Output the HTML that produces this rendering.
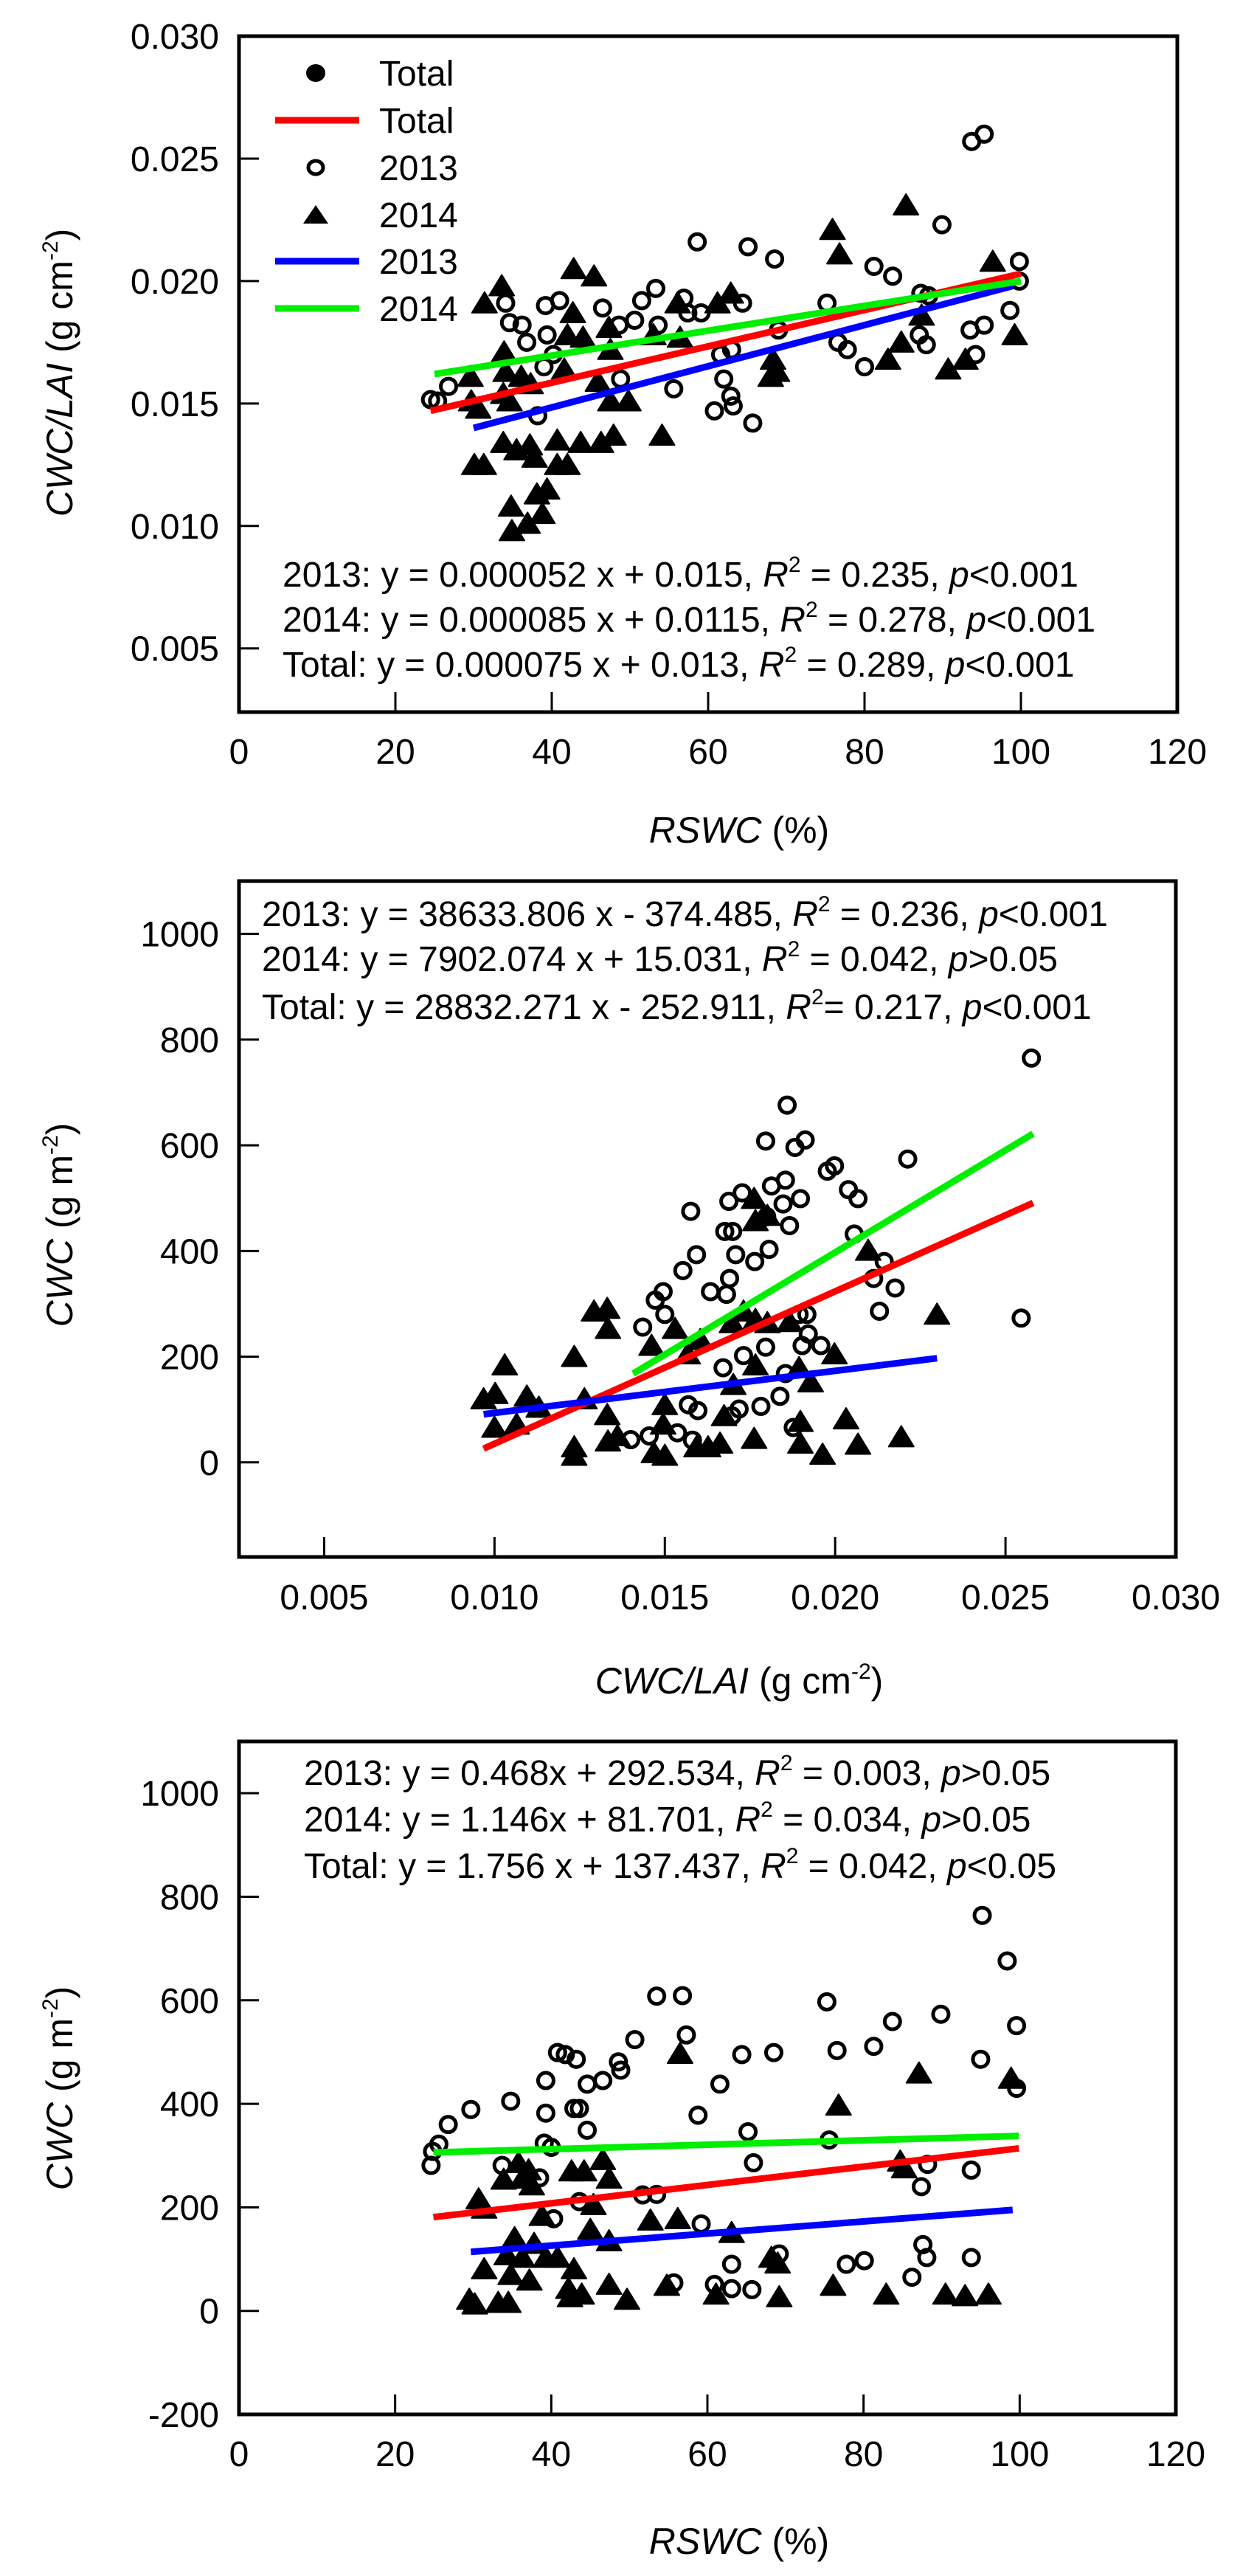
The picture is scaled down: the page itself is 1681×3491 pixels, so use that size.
<!DOCTYPE html>
<html><head><meta charset="utf-8"><style>
html,body{margin:0;padding:0;background:#fff;}
svg{display:block;font-family:"Liberation Sans",Arial,sans-serif;}
</style></head>
<body>
<svg id="fig" xmlns="http://www.w3.org/2000/svg" width="1681" height="3491" viewBox="0 0 1681 3491"></svg>
<script>
// ---------- Panel A data: RSWC (%) vs CWC/LAI ----------
const a2013X=[24.5,25.4,26.8,34.1,34.6,36.2,36.8,38.2,39.2,39.4,39,41,40.2,46.5,48.6,48.8,50.6,51.5,53.3,53.6,55.6,56.9,57.4,58.6,59.1,60.8,61.6,62,63,62.9,63.2,64.4,65.1,65.7,68.5,69,75.2,76.6,77.8,80,81.2,83.6,87.2,87,87.9,89.9,93.7,95.3,93.5,95.3,94.2,98.6,99.8,99.8,88.2];
const a2013Y=[0.01516,0.0151,0.0157,0.0191,0.0183,0.0182,0.0175,0.0145,0.0190,0.0178,0.0165,0.0192,0.0170,0.0189,0.0182,0.0160,0.0184,0.0192,0.0197,0.0182,0.0156,0.0193,0.0187,0.0216,0.0187,0.0147,0.0170,0.0160,0.0172,0.0153,0.0149,0.0191,0.0214,0.0142,0.0209,0.0180,0.0191,0.0175,0.0172,0.0165,0.0206,0.0202,0.0195,0.0178,0.0174,0.0223,0.0257,0.0260,0.0180,0.0182,0.0170,0.0188,0.0208,0.0200,0.0194];
const a2014X=[29.6,31.4,33.6,29.7,30.6,30.1,31.3,33.9,34.1,33.8,34.6,33.8,36.1,37.3,35.5,37.2,37.8,34.8,34.9,36.9,38.1,39.4,38.8,40.7,42,42.8,45.4,42,42.7,44,41.6,40.7,43.7,45.9,47.3,47.5,46.3,47.9,47.5,49.8,53,54.1,56.1,56.4,61.2,62.9,68.3,68.8,68,75.9,76.8,83,84.7,85.3,87.3,90.7,92.9,96.4,99.2];
const a2014Y=[0.0161,0.0191,0.0198,0.0151,0.0148,0.0125,0.0125,0.0171,0.0163,0.0154,0.0151,0.0134,0.0161,0.0158,0.0131,0.0133,0.0128,0.0108,0.0098,0.0101,0.0113,0.0115,0.0105,0.0125,0.0125,0.0205,0.0202,0.0178,0.0187,0.0177,0.0164,0.0135,0.0134,0.0159,0.0181,0.0172,0.0134,0.0137,0.0151,0.0151,0.0178,0.0137,0.0191,0.0177,0.0191,0.0195,0.0168,0.0163,0.0161,0.0221,0.0211,0.0168,0.0175,0.0231,0.0186,0.0164,0.0168,0.0208,0.0178];
const aLineX0=[24.5,30,25];      // Total, 2013, 2014
const aLineX1=[100,99,100];
const aLineY0=[0.0147,0.0140,0.0162];
const aLineY1=[0.0203,0.0198,0.0200];
const aXTicks=[0,20,40,60,80,100,120];
const aYTicks=[0.005,0.010,0.015,0.020,0.025,0.030];
const aYTickLabels=["0.005","0.010","0.015","0.020","0.025","0.030"];

// ---------- Panel B data: CWC/LAI vs CWC ----------
const b2013X=[0.02576,0.02546,0.01859,0.01796,0.01882,0.01912,0.01977,0.01998,0.02213,0.01854,0.01813,0.01727,0.01688,0.01898,0.01847,0.02039,0.02067,0.01576,0.01799,0.01676,0.01699,0.01866,0.02056,0.01593,0.01708,0.01806,0.01764,0.02144,0.01553,0.02113,0.02176,0.01690,0.01681,0.01634,0.01495,0.01472,0.01500,0.02130,0.01894,0.01917,0.01435,0.01921,0.01731,0.01796,0.01958,0.01903,0.01671,0.01854,0.01838,0.01782,0.01718,0.01697,0.01569,0.01597,0.01877,0.01537,0.01454,0.01581,0.01400];
const b2013Y=[765,273,676,608,596,610,551,561,574,534,523,510,494,499,489,516,499,475,465,437,437,448,432,393,393,403,380,380,363,348,330,348,318,323,323,307,280,286,280,280,256,243,202,218,221,221,179,168,125,106,101,88,109,98,66,56,50,42,43];
const b2014X=[0.00968,0.01002,0.01030,0.01000,0.01065,0.01095,0.01130,0.01234,0.01234,0.01234,0.01264,0.01292,0.01331,0.01333,0.01331,0.01333,0.01361,0.01461,0.01530,0.01500,0.01495,0.01500,0.01468,0.01567,0.01604,0.01593,0.01627,0.01662,0.01697,0.01731,0.01766,0.01801,0.01762,0.01766,0.01801,0.01766,0.01762,0.01866,0.01894,0.01928,0.01898,0.01898,0.01963,0.01998,0.02032,0.02067,0.02097,0.02194,0.02299,0.01701,0.01674];
const b2014Y=[120,130,184,66,72,125,104,200,29,13,120,286,291,253,90,40,50,221,253,109,72,13,18,205,232,29,29,36,264,286,270,264,499,457,467,184,45,266,179,152,77,36,15,205,82,34,401,48,280,147,88];
const bLineX0=[0.00968,0.00968,0.01407];
const bLineX1=[0.02581,0.02299,0.02581];
const bLineY0=[26,91,168];
const bLineY1=[491,197,622];
const bXTicks=[0.005,0.010,0.015,0.020,0.025,0.030];
const bXTickLabels=["0.005","0.010","0.015","0.020","0.025","0.030"];
const bYTicks=[0,200,400,600,800,1000];

// ---------- Panel C data: RSWC vs CWC ----------
const c2013X=[24.6,24.8,25.6,26.8,29.7,34.8,33.7,39.3,39.3,39.1,40,38.5,40.3,40.8,41.8,43.2,42.9,43.6,44.6,46.6,44.6,43.6,48.6,48.9,50.7,51.7,53.5,53.5,56.8,57.3,55.7,58.8,59.2,61.6,60.9,63.1,63.1,64.4,65.2,65.9,65.7,68.5,69.2,75.3,75.6,76.6,77.8,80.1,81.3,83.7,86.2,87.4,87.6,88.1,88.2,89.9,93.8,93.8,95,95.2,98.4,99.6,99.6];
const c2013Y=[281,308,322,360,389,405,281,445,382,324,316,257,178,499,495,486,391,391,438,445,349,211,481,465,524,224,225,608,609,533,54,378,168,438,51,90,43,495,346,286,41,499,110,597,330,503,90,97,511,559,65,240,128,103,283,573,103,272,486,764,676,551,430];
const c2014X=[29.5,30.2,30.7,31.4,31.4,33.2,34.5,33.9,35.8,36.3,37.1,37.5,35.3,34.3,36.3,37.2,34.8,37.8,38.8,39.3,40.8,42.6,44.2,42.9,42.2,42.4,43.9,45.4,45,46.6,47.4,47.4,47.4,49.7,52.7,56.2,56.5,54.8,63.1,61.1,69.2,68.2,69,76.8,76.1,82.9,84.7,85.2,87.1,90.5,93,96,98.9];
const c2014Y=[22,13,216,198,81,16,16,254,286,256,272,243,141,108,103,59,70,130,184,103,103,270,270,81,43,27,32,205,157,292,256,135,51,22,175,178,497,49,151,32,27,103,92,397,49,32,289,276,459,32,29,32,449];
const cLineX0=[24.9,29.7,24.9];
const cLineX1=[99.9,99.1,99.9];
const cLineY0=[181,114,306];
const cLineY1=[314,195,338];
const cXTicks=[0,20,40,60,80,100,120];
const cYTicks=[-200,0,200,400,600,800,1000];

const lineColors=["#ff0000","#0000ff","#00ee00"];
const lineNames=["total","2013","2014"];

const NS="http://www.w3.org/2000/svg";
const svg=document.getElementById('fig');
function mk(tag,attrs,parent){const e=document.createElementNS(NS,tag);for(const k in attrs)e.setAttribute(k,attrs[k]);(parent||svg).appendChild(e);return e;}

function panel(cfg){
  const g=mk('g',{});
  
  
  const L=cfg.left,R=cfg.right,T=cfg.top,B=cfg.bottom;
  const sx=v=>L+(v-cfg.xmin)/(cfg.xmax-cfg.xmin)*(R-L);
  const sy=v=>B-(v-cfg.ymin)/(cfg.ymax-cfg.ymin)*(B-T);
  // ticks (inside)
  cfg.yTicks.forEach((v,i)=>{
    const y=sy(v);
    if(y>T+3&&y<B-3){const t=mk('line',{x1:L,x2:L+27,y1:y,y2:y,stroke:'#000','stroke-width':3},g);
    
    }
    const lb=mk('text',{x:297,y:y+17,'text-anchor':'end','font-size':48},g);
    lb.textContent=cfg.yLabels?cfg.yLabels[i]:String(v);
    
    
  });
  cfg.xTicks.forEach((v,i)=>{
    const x=sx(v);
    if(x>L+3&&x<R-3){const t=mk('line',{x1:x,x2:x,y1:B,y2:B-27,stroke:'#000','stroke-width':3},g);
    
    }
    const lb=mk('text',{x:x,y:cfg.xLabelY,'text-anchor':'middle','font-size':48},g);
    lb.textContent=cfg.xLabels?cfg.xLabels[i]:String(v);
    
    
  });
  // points
  const drawTri=(x,y,parent)=>mk('polygon',{points:`${x},${y-15} ${x-17},${y+13} ${x+17},${y+13}`,fill:'#000',stroke:'#000','stroke-width':2,'stroke-linejoin':'round'},parent);
  const pg=mk('g',{},g);
  
  
  cfg.x14.forEach((v,i)=>{const p=drawTri(sx(v),sy(cfg.y14[i]),pg);
    
    });
  const cg=mk('g',{},g);
  
  
  cfg.x13.forEach((v,i)=>{const c=mk('circle',{cx:sx(v),cy:sy(cfg.y13[i]),r:10.5,fill:'none',stroke:'#000','stroke-width':5},cg);
    
    });
  // lines
  [0,1,2].forEach(i=>{
    const l=mk('line',{x1:sx(cfg.lx0[i]),y1:sy(cfg.ly0[i]),x2:sx(cfg.lx1[i]),y2:sy(cfg.ly1[i]),stroke:lineColors[i],'stroke-width':9},g);
    
    
  });
  const box=mk('rect',{x:L,y:T,width:R-L,height:B-T,fill:'none',stroke:'#000','stroke-width':5},g);
  
  
  // equations
  cfg.eqs.forEach((e,i)=>{
    const t=mk('text',{x:cfg.eqX,y:cfg.eqY[i],'font-size':48},g);
    t.innerHTML=e;
    
    
  });
  // axis titles
  const xt=mk('text',{x:1002,y:cfg.xTitleY,'text-anchor':'middle','font-size':50},g);
  xt.innerHTML=cfg.xTitle;
  
  
  const yt=mk('text',{x:0,y:0,'text-anchor':'middle','font-size':50,transform:`translate(98,${cfg.yTitleY}) rotate(-90)`},g);
  yt.innerHTML=cfg.yTitle;
  
  
  return {g,sx,sy};
}

const R2='<tspan font-style="italic">R</tspan><tspan font-size="30" dy="-20">2</tspan><tspan dy="20">';
const sup=(s)=>`<tspan font-size="30" dy="-20">${s}</tspan><tspan dy="20">`;

const pA=panel({name:'panel-cwc-lai-vs-rswc',left:324,right:1596,top:49,bottom:965,xmin:0,xmax:120,ymin:0.0024,ymax:0.030,
  xTicks:aXTicks,yTicks:aYTicks,yLabels:aYTickLabels,xLabelY:1035,
  x13:a2013X,y13:a2013Y,x14:a2014X,y14:a2014Y,lx0:aLineX0,lx1:aLineX1,ly0:aLineY0,ly1:aLineY1,
  eqX:383,eqY:[795,856,917],
  eqs:['2013: y = 0.000052 x + 0.015, '+R2+' = 0.235, </tspan><tspan font-style="italic">p</tspan>&lt;0.001',
       '2014: y = 0.000085 x + 0.0115, '+R2+' = 0.278, </tspan><tspan font-style="italic">p</tspan>&lt;0.001',
       'Total: y = 0.000075 x + 0.013, '+R2+' = 0.289, </tspan><tspan font-style="italic">p</tspan>&lt;0.001'],
  xTitle:'<tspan font-style="italic">RSWC</tspan> (%)',xTitleY:1142,
  yTitle:'<tspan font-style="italic">CWC/LAI</tspan>  (g cm'+sup('-2')+')</tspan>',yTitleY:505});

// legend for panel A
const leg=mk('g',{});


const legRows=[99,163,227,291,354,418];
const legLabels=['Total','Total','2013','2014','2013','2014'];
legRows.forEach((y,i)=>{
  let m;
  if(i===0) m=mk('ellipse',{cx:428,cy:y,rx:13,ry:12,fill:'#000'},leg);
  else if(i===2) m=mk('ellipse',{cx:428,cy:y,rx:10,ry:9,fill:'none',stroke:'#000','stroke-width':5},leg);
  else if(i===3) m=mk('polygon',{points:`428,${y-13} ${411},${y+12} ${445},${y+12}`,fill:'#000'},leg);
  else m=mk('line',{x1:373,x2:487,y1:y,y2:y,stroke:i===1?lineColors[0]:(i===4?lineColors[1]:lineColors[2]),'stroke-width':9},leg);
  
  
  const t=mk('text',{x:514,y:y+17,'font-size':48},leg);
  t.textContent=legLabels[i];
  
  
});

panel({name:'panel-cwc-vs-cwc-lai',left:324,right:1594,top:1194,bottom:2110,xmin:0.0025,xmax:0.030,ymin:-179,ymax:1100,
  xTicks:bXTicks,xLabels:bXTickLabels,yTicks:bYTicks,xLabelY:2181,
  x13:b2013X,y13:b2013Y,x14:b2014X,y14:b2014Y,lx0:bLineX0,lx1:bLineX1,ly0:bLineY0,ly1:bLineY1,
  eqX:355,eqY:[1255,1316,1381],
  eqs:['2013: y = 38633.806 x - 374.485,  '+R2+' = 0.236, </tspan><tspan font-style="italic">p</tspan>&lt;0.001',
       '2014: y = 7902.074 x + 15.031, '+R2+' = 0.042, </tspan><tspan font-style="italic">p</tspan>&gt;0.05',
       'Total: y = 28832.271 x - 252.911, '+R2+'= 0.217, </tspan><tspan font-style="italic">p</tspan>&lt;0.001'],
  xTitle:'<tspan font-style="italic">CWC/LAI</tspan>  (g cm'+sup('-2')+')</tspan>',xTitleY:2295,
  yTitle:'<tspan font-style="italic">CWC</tspan> (g m'+sup('-2')+')</tspan>',yTitleY:1660});

panel({name:'panel-cwc-vs-rswc',left:324,right:1594,top:2360,bottom:3272,xmin:0,xmax:120,ymin:-200,ymax:1100,
  xTicks:cXTicks,yTicks:cYTicks,xLabelY:3342,
  x13:c2013X,y13:c2013Y,x14:c2014X,y14:c2014Y,lx0:cLineX0,lx1:cLineX1,ly0:cLineY0,ly1:cLineY1,
  eqX:412,eqY:[2419,2482,2545],
  eqs:['2013: y = 0.468x + 292.534, '+R2+' = 0.003, </tspan><tspan font-style="italic">p</tspan>&gt;0.05',
       '2014: y = 1.146x + 81.701, '+R2+' = 0.034, </tspan><tspan font-style="italic">p</tspan>&gt;0.05',
       'Total: y = 1.756 x + 137.437, '+R2+' = 0.042, </tspan><tspan font-style="italic">p</tspan>&lt;0.05'],
  xTitle:'<tspan font-style="italic">RSWC</tspan> (%)',xTitleY:3461,
  yTitle:'<tspan font-style="italic">CWC</tspan> (g m'+sup('-2')+')</tspan>',yTitleY:2830});
</script>
</body></html>
